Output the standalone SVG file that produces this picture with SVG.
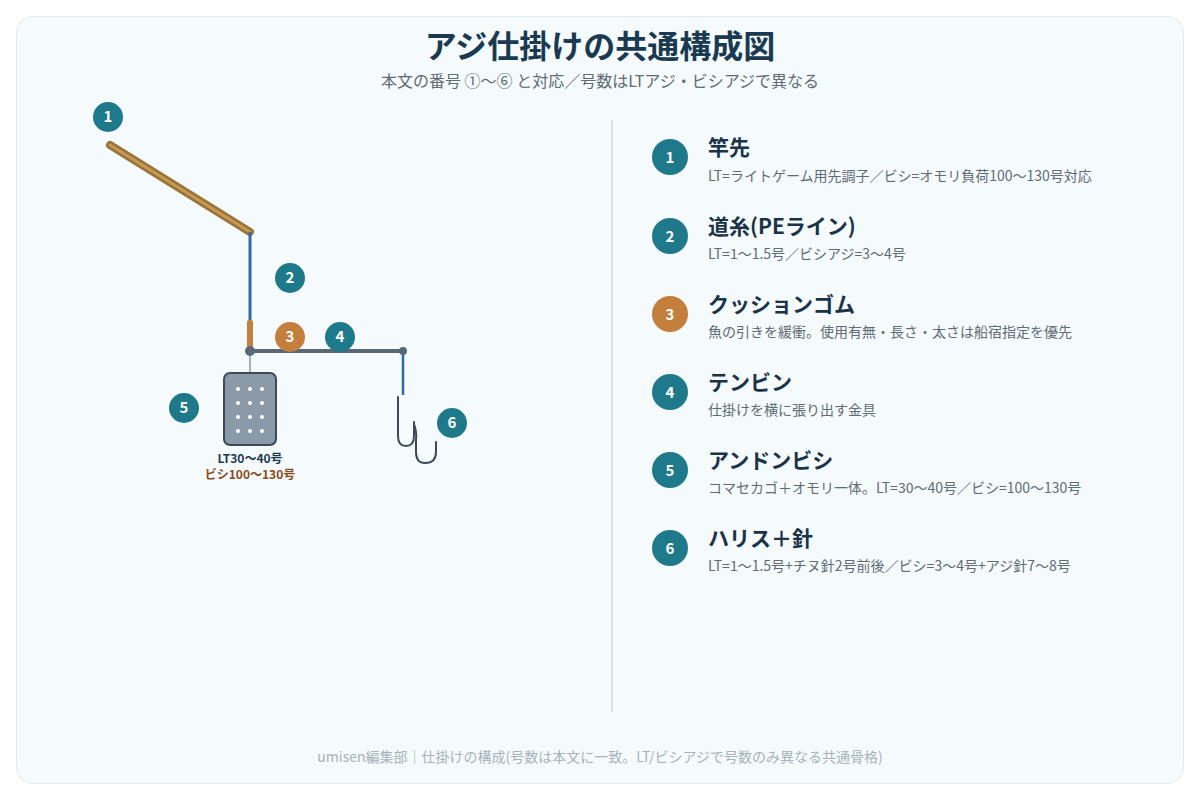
<svg xmlns="http://www.w3.org/2000/svg" width="1200" height="800" viewBox="0 0 1200 800">
<style>
text{font-family:"Noto Sans CJK JP","Noto Sans",sans-serif}
.b{fill:#1e7a8a}.o{fill:#c47f3c}
.bn{fill:#fff;font-size:15px;font-weight:700;text-anchor:middle}
.h{fill:#1a3348;font-size:21px;font-weight:700}
.d{fill:#5f6b75;font-size:14px}
</style>
<rect x="0" y="0" width="1200" height="800" fill="#ffffff"/>
<rect x="16.5" y="16.5" width="1167" height="767" rx="16" fill="#f5fafc" stroke="#e1e9ed"/>
<text x="600" y="58" font-size="32" font-weight="700" fill="#1a3a52" text-anchor="middle">アジ仕掛けの共通構成図</text>
<text x="600" y="87" font-size="16" fill="#5f6b75" text-anchor="middle">本文の番号 ①〜⑥ と対応／号数はLTアジ・ビシアジで異なる</text>
<g id="connectors">
<line x1="110" y1="145" x2="250" y2="232" stroke="#9a7338" stroke-width="8" stroke-linecap="round"/>
<line x1="110" y1="145" x2="250" y2="232" stroke="#c49a55" stroke-width="3" stroke-linecap="round"/>
<line x1="250" y1="232" x2="250" y2="320" stroke="#2f6aa8" stroke-width="3"/>
<line x1="250" y1="351" x2="250" y2="373" stroke="#8a949c" stroke-width="1.5"/>
<line x1="250" y1="351" x2="403" y2="351" stroke="#5a6875" stroke-width="4"/>
<line x1="403" y1="351" x2="403" y2="395" stroke="#2f6aa8" stroke-width="2.5"/>
</g>
<g id="rod"><circle cx="108" cy="117" r="15" class="b"/><text x="108" y="122" class="bn">1</text></g>
<g id="line"><circle cx="290" cy="278" r="15" class="b"/><text x="290" y="283" class="bn">2</text></g>
<g id="cushion"><rect x="247" y="320" width="6" height="28" rx="2" fill="#c47f3c"/><circle cx="290" cy="337" r="15" class="o"/><text x="290" y="342" class="bn">3</text></g>
<g id="tenbin"><circle cx="250" cy="351" r="5" fill="#5a6875"/><circle cx="403" cy="351" r="4" fill="#5a6875"/><circle cx="340" cy="337" r="15" class="b"/><text x="340" y="342" class="bn">4</text></g>
<g id="sinker">
<rect x="224" y="373" width="52" height="72" rx="6" fill="#8a9aa8" stroke="#3d4a55" stroke-width="2"/>
<g fill="#fff">
<circle cx="238" cy="389" r="2"/><circle cx="250" cy="389" r="2"/><circle cx="262" cy="389" r="2"/>
<circle cx="238" cy="403" r="2"/><circle cx="250" cy="403" r="2"/><circle cx="262" cy="403" r="2"/>
<circle cx="238" cy="417" r="2"/><circle cx="250" cy="417" r="2"/><circle cx="262" cy="417" r="2"/>
<circle cx="238" cy="431" r="2"/><circle cx="250" cy="431" r="2"/><circle cx="262" cy="431" r="2"/>
</g>
<text x="250" y="463" font-size="12" font-weight="700" fill="#1a3a52" text-anchor="middle">LT30〜40号</text>
<text x="250" y="479" font-size="12" font-weight="700" fill="#8a4a22" text-anchor="middle">ビシ100〜130号</text>
<circle cx="184" cy="408" r="15" class="b"/><text x="184" y="413" class="bn">5</text>
</g>
<g id="hooks" fill="none" stroke="#3d4a55" stroke-width="2" stroke-linecap="round">
<path d="M398 397 V436 Q398 446 406 446 Q414 446 414 436 V422"/>
<path d="M414 424 Q417 432 416 440 V452 Q416 463 425 463 Q436 463 436 452 V442"/>
<circle cx="452" cy="423" r="15" class="b" stroke="none"/><text x="452" y="428" class="bn" stroke="none">6</text>
</g>
<line x1="612" y1="120" x2="612" y2="712" stroke="#d5dde2" stroke-width="1.5"/>
<g id="item1"><circle cx="670" cy="157" r="18" class="b"/><text x="670" y="163" class="bn" font-size="17">1</text><text x="708" y="155" class="h">竿先</text><text x="708" y="181" class="d">LT=ライトゲーム用先調子／ビシ=オモリ負荷100〜130号対応</text></g>
<g id="item2"><circle cx="670" cy="236" r="18" class="b"/><text x="670" y="242" class="bn" font-size="17">2</text><text x="708" y="234" class="h">道糸(PEライン)</text><text x="708" y="259" class="d">LT=1〜1.5号／ビシアジ=3〜4号</text></g>
<g id="item3"><circle cx="670" cy="314" r="18" class="o"/><text x="670" y="320" class="bn" font-size="17">3</text><text x="708" y="312" class="h">クッションゴム</text><text x="708" y="337" class="d">魚の引きを緩衝。使用有無・長さ・太さは船宿指定を優先</text></g>
<g id="item4"><circle cx="670" cy="392" r="18" class="b"/><text x="670" y="398" class="bn" font-size="17">4</text><text x="708" y="390" class="h">テンビン</text><text x="708" y="415" class="d">仕掛けを横に張り出す金具</text></g>
<g id="item5"><circle cx="670" cy="470" r="18" class="b"/><text x="670" y="476" class="bn" font-size="17">5</text><text x="708" y="468" class="h">アンドンビシ</text><text x="708" y="493" class="d">コマセカゴ＋オモリ一体。LT=30〜40号／ビシ=100〜130号</text></g>
<g id="item6"><circle cx="670" cy="548" r="18" class="b"/><text x="670" y="554" class="bn" font-size="17">6</text><text x="708" y="546" class="h">ハリス＋針</text><text x="708" y="571" class="d">LT=1〜1.5号+チヌ針2号前後／ビシ=3〜4号+アジ針7〜8号</text></g>
<text x="600" y="762" font-size="14" fill="#a8b2ba" text-anchor="middle">umisen編集部｜仕掛けの構成(号数は本文に一致。LT/ビシアジで号数のみ異なる共通骨格)</text>
</svg>
